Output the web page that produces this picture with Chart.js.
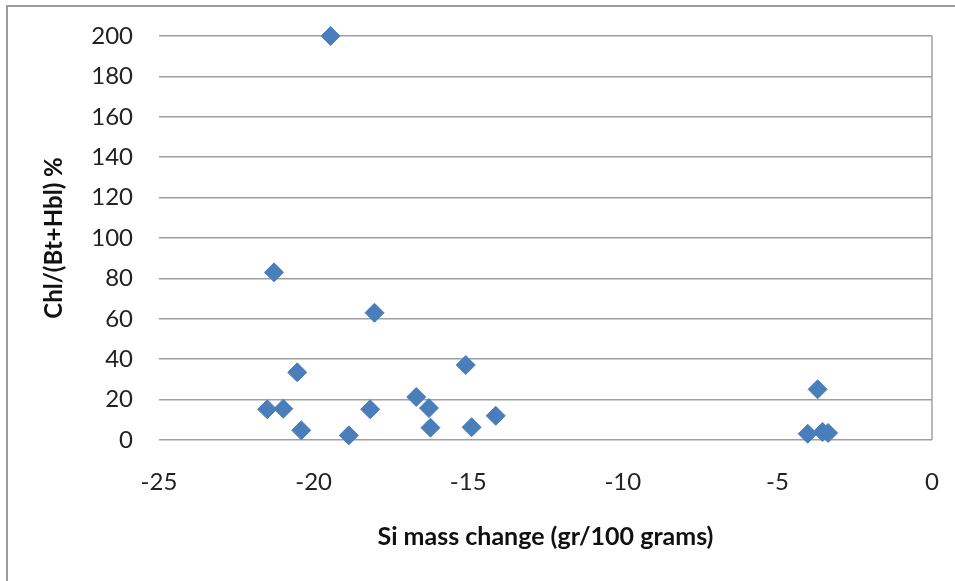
<!DOCTYPE html>
<html>
<head>
<meta charset="utf-8">
<script src="https://cdn.jsdelivr.net/npm/chart.js@4/dist/chart.umd.min.js"></script>
<style>
  html, body { margin: 0; padding: 0; background: #fff; }
  #wrap { width: 955px; height: 581px; position: relative; }
</style>
</head>
<body>
<div id="wrap"><canvas id="c" width="955" height="581"></canvas></div>
<script>
// Si mass change (gr/100 grams) per sample
const siMassChange = [
  -19.45, -21.28, -18.03, -20.53, -21.50, -20.98, -20.40, -18.86, -18.17,
  -16.68, -16.27, -16.22, -15.08, -14.89, -14.11,
  -3.70, -4.02, -3.54, -3.36
];
// Chl/(Bt+Hbl) ratio in percent, same order
const chlRatio = [
  200, 83, 63, 33.5, 15.2, 15.5, 4.8, 2.3, 15.2,
  21.3, 15.8, 6.1, 37.1, 6.3, 12.0,
  25.1, 3.1, 4.0, 3.5
];
const xTitle = 'Si mass change (gr/100 grams)';
const yTitle = 'Chl/(Bt+Hbl) %';

const points = siMassChange.map((x, i) => ({ x: x, y: chlRatio[i] }));

// Outer frame of the chart object (left and top edges visible)
const framePlugin = {
  id: 'frame',
  beforeDraw(chart) {
    const ctx = chart.ctx;
    ctx.save();
    ctx.strokeStyle = '#9a9a9a';
    ctx.lineWidth = 2;
    ctx.beginPath();
    ctx.moveTo(7, 600);
    ctx.lineTo(7, 6);
    ctx.lineTo(960, 6);
    ctx.stroke();
    ctx.restore();
  }
};

// Right edge of the plot area
const plotEdgePlugin = {
  id: 'plotEdge',
  beforeDatasetsDraw(chart) {
    const { ctx, chartArea } = chart;
    ctx.save();
    ctx.strokeStyle = '#a0a0a0';
    ctx.lineWidth = 1.5;
    ctx.beginPath();
    ctx.moveTo(chartArea.right, chartArea.top);
    ctx.lineTo(chartArea.right, chartArea.bottom);
    ctx.stroke();
    ctx.restore();
  }
};

const fontFamily = 'Lato, "Open Sans", sans-serif';

new Chart(document.getElementById('c'), {
  type: 'scatter',
  data: {
    datasets: [{
      data: points,
      pointStyle: 'rectRot',
      pointRadius: 9.5,
      pointHoverRadius: 9.5,
      backgroundColor: '#4A7EBB',
      borderColor: '#4A7EBB',
      borderWidth: 1,
      clip: false
    }]
  },
  options: {
    responsive: false,
    animation: false,
    layout: { padding: { left: 0, top: 36, right: 23, bottom: 0 } },
    plugins: {
      legend: { display: false },
      tooltip: { enabled: false }
    },
    scales: {
      x: {
        type: 'linear',
        min: -25,
        max: 0,
        afterFit(scale) {
          scale.height = 141;
          scale.paddingLeft = 0;
          scale.paddingRight = 0;
        },
        ticks: {
          stepSize: 5,
          padding: 28,
          color: '#222',
          font: { family: fontFamily, size: 24 }
        },
        grid: { display: false, drawTicks: false },
        border: { display: false },
        title: {
          display: true,
          text: xTitle,
          color: '#111',
          font: { family: fontFamily, size: 25, weight: 'bold' },
          padding: { top: 0, bottom: 29 }
        }
      },
      y: {
        type: 'linear',
        min: 0,
        max: 200,
        afterFit(scale) {
          scale.width = 159;
          scale.paddingTop = 0;
          scale.paddingBottom = 0;
        },
        ticks: {
          stepSize: 20,
          padding: 26,
          color: '#222',
          font: { family: fontFamily, size: 24 }
        },
        grid: { color: '#a0a0a0', lineWidth: 1.5, drawTicks: false },
        border: { display: false },
        title: {
          display: true,
          text: yTitle,
          color: '#111',
          font: { family: fontFamily, size: 24, weight: 'bold' },
          padding: { top: 40, bottom: 0 }
        }
      }
    }
  },
  plugins: [framePlugin, plotEdgePlugin]
});
</script>
</body>
</html>
